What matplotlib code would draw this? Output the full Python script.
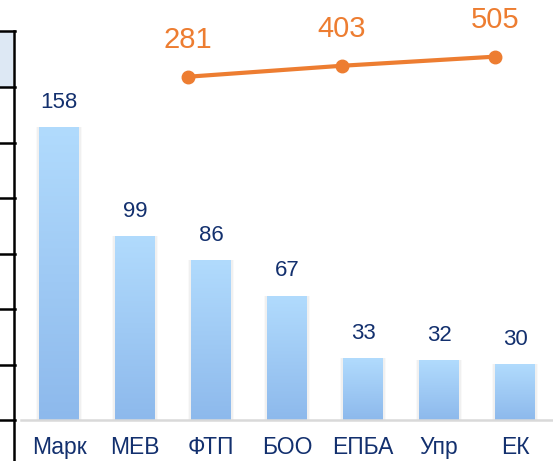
import matplotlib
matplotlib.use("Agg")
import matplotlib.pyplot as plt
import numpy as np
from matplotlib.lines import Line2D
from matplotlib.patches import Rectangle
from matplotlib.colors import LinearSegmentedColormap

plt.rcParams['font.family'] = ['Liberation Sans', 'DejaVu Sans']

categories = ['Марк', 'МЕВ', 'ФТП', 'БОО', 'ЕПБА', 'Упр', 'ЕК']
bar_values = [158, 99, 86, 67, 33, 32, 30]
line_labels = ['281', '403', '505']
line_values = [281, 403, 505]

W, H = 553, 461
fig = plt.figure(figsize=(W / 100, H / 100), dpi=100)

NAVY = '#13306e'
ORANGE = '#ed7d31'

def px_rect(x0, y0, x1, y1):
    # pixel box (from top-left) -> figure fraction rect
    return [x0 / W, 1 - y1 / H, (x1 - x0) / W, (y1 - y0) / H]

# main axes: from x=21 to 553 px, baseline at 419.5 px
ax = fig.add_axes(px_rect(21, 0, 553, 419.5))
ax.set_xlim(-0.5, len(categories) - 0.5)
ax.set_ylim(0, 419.5 / 1.85)

x = np.arange(len(categories))
bars = ax.bar(x, bar_values, width=0.515, color='none', zorder=2)

cmap = LinearSegmentedColormap.from_list('g', ['#8db9ec', '#b1dbfd'])
grad = np.linspace(0, 1, 256).reshape(-1, 1)
for b in bars:
    bx, bw, bh = b.get_x(), b.get_width(), b.get_height()
    # soft shadow
    for k, a in [(0.05, 0.025), (0.03, 0.035)]:
        ax.add_patch(Rectangle((bx - k, 0), bw + 2 * k, bh, facecolor='#000000',
                               alpha=a, edgecolor='none', zorder=1))
    ax.imshow(grad, extent=(bx, bx + bw, 0, bh), origin='lower', cmap=cmap,
              aspect='auto', zorder=2, interpolation='bicubic')
    ax.annotate(f'{bh:g}', (bx + bw / 2, bh), xytext=(0, 18), textcoords='offset points',
                ha='center', va='center', fontsize=16, color=NAVY)
ax.set_xlim(-0.5, len(categories) - 0.5)
ax.set_ylim(0, 419.5 / 1.85)

ax.set_xticks(x)
ax.set_xticklabels(categories, fontsize=16.5, color=NAVY)
ax.tick_params(axis='x', length=0, pad=12)
ax.set_yticks([])
for s in ['top', 'right', 'left']:
    ax.spines[s].set_visible(False)
ax.spines['bottom'].set_color('#d9d9d9')
ax.spines['bottom'].set_linewidth(1.8)
ax.patch.set_alpha(0)

# line series axes (overlay)
ax2 = fig.add_axes(px_rect(21, 0, 553, 419.5))
ax2.patch.set_alpha(0)
ax2.axis('off')
step = 153.35
ax2.set_xlim(-(188.3 - 21) / step, (553 - 188.3) / step)
scale = 0.0895
span = 419.5 / scale
lo = 281 - (419.5 - 76.7) / scale
ax2.set_ylim(lo, lo + span)
lx = np.arange(len(line_values))
ax2.plot(lx, line_values, color=ORANGE, lw=3, marker='o', markersize=9,
         solid_capstyle='round', zorder=3)
for xi, v, t in zip(lx, line_values, line_labels):
    ax2.annotate(t, (xi, v), xytext=(0, 26.6), textcoords='offset points',
                 ha='center', va='center', fontsize=21, color=ORANGE)

# left cropped table decoration
fig.add_artist(Rectangle((0, 1 - 87 / H), 13 / W, (87 - 31) / H,
                         transform=fig.transFigure, facecolor='#dde8f4',
                         edgecolor='none', zorder=0))
fig.add_artist(Line2D([13.5 / W, 13.5 / W], [1 - 31 / H, 0],
                      transform=fig.transFigure, color='black', lw=1.8))
for yy in [31, 87, 143, 198, 254, 309, 365, 420]:
    fig.add_artist(Line2D([0, 14.5 / W], [1 - yy / H, 1 - yy / H],
                          transform=fig.transFigure, color='black', lw=1.8))

fig.savefig('out.png', dpi=100)
